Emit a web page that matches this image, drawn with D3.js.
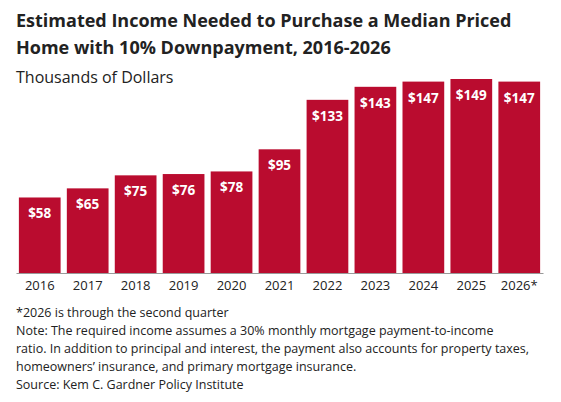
<!DOCTYPE html><html><head><meta charset="utf-8">
<script src="https://cdn.jsdelivr.net/npm/d3@7"></script>
<style>body{margin:0;background:#fff}text{font-family:"Open Sans","Noto Sans",sans-serif}</style></head><body>
<svg id="c" width="561" height="402"></svg>
<script>
const categories=["2016","2017","2018","2019","2020","2021","2022","2023","2024","2025","2026*"];
const values=[58,65,75,76,78,95,133,143,147,149,147];
const titleLines=["Estimated Income Needed to Purchase a Median Priced","Home with 10% Downpayment, 2016-2026"];
const notes=["*2026 is through the second quarter","Note: The required income assumes a 30% monthly mortgage payment-to-income","ratio. In addition to principal and interest, the payment also accounts for property taxes,","homeowners’ insurance, and primary mortgage insurance.","Source: Kem C. Gardner Policy Institute"];
const svg=d3.select("#c");
svg.selectAll("text.t").data(titleLines).join("text").attr("x",16).attr("y",(d,i)=>27+i*27)
 .attr("font-size",18).attr("font-weight",700).attr("fill","#222").text(d=>d);
svg.append("text").attr("x",16).attr("y",83).attr("font-size",16).attr("fill","#222").text("Thousands of Dollars");
const x=d3.scaleBand().domain(categories).range([16,543]).paddingInner(0.13).paddingOuter(0.06);
const y=d3.scaleLinear().domain([0,149]).range([273,79]);
svg.selectAll("rect").data(values).join("rect").attr("x",(d,i)=>x(categories[i])).attr("width",x.bandwidth())
 .attr("y",d=>y(d)).attr("height",d=>273-y(d)).attr("fill","#BA0C2F");
svg.selectAll("text.v").data(values).join("text").attr("x",(d,i)=>x(categories[i])+x.bandwidth()/2).attr("y",d=>y(d)+21)
 .attr("text-anchor","middle").attr("fill","#fff").attr("font-size",13.5).attr("font-weight",700).text(d=>"$"+d);
const ax=svg.append("g").attr("transform","translate(0,273)").call(d3.axisBottom(x).tickSize(0).tickPadding(8));
ax.select(".domain").attr("stroke","#999");
ax.selectAll("text").attr("font-size",13).attr("fill","#222").attr("font-family","'Open Sans',sans-serif");
svg.selectAll("text.n").data(notes).join("text").attr("x",16).attr("y",(d,i)=>317+i*18)
 .attr("font-size",12.5).attr("fill","#222").text(d=>d);
</script></body></html>
